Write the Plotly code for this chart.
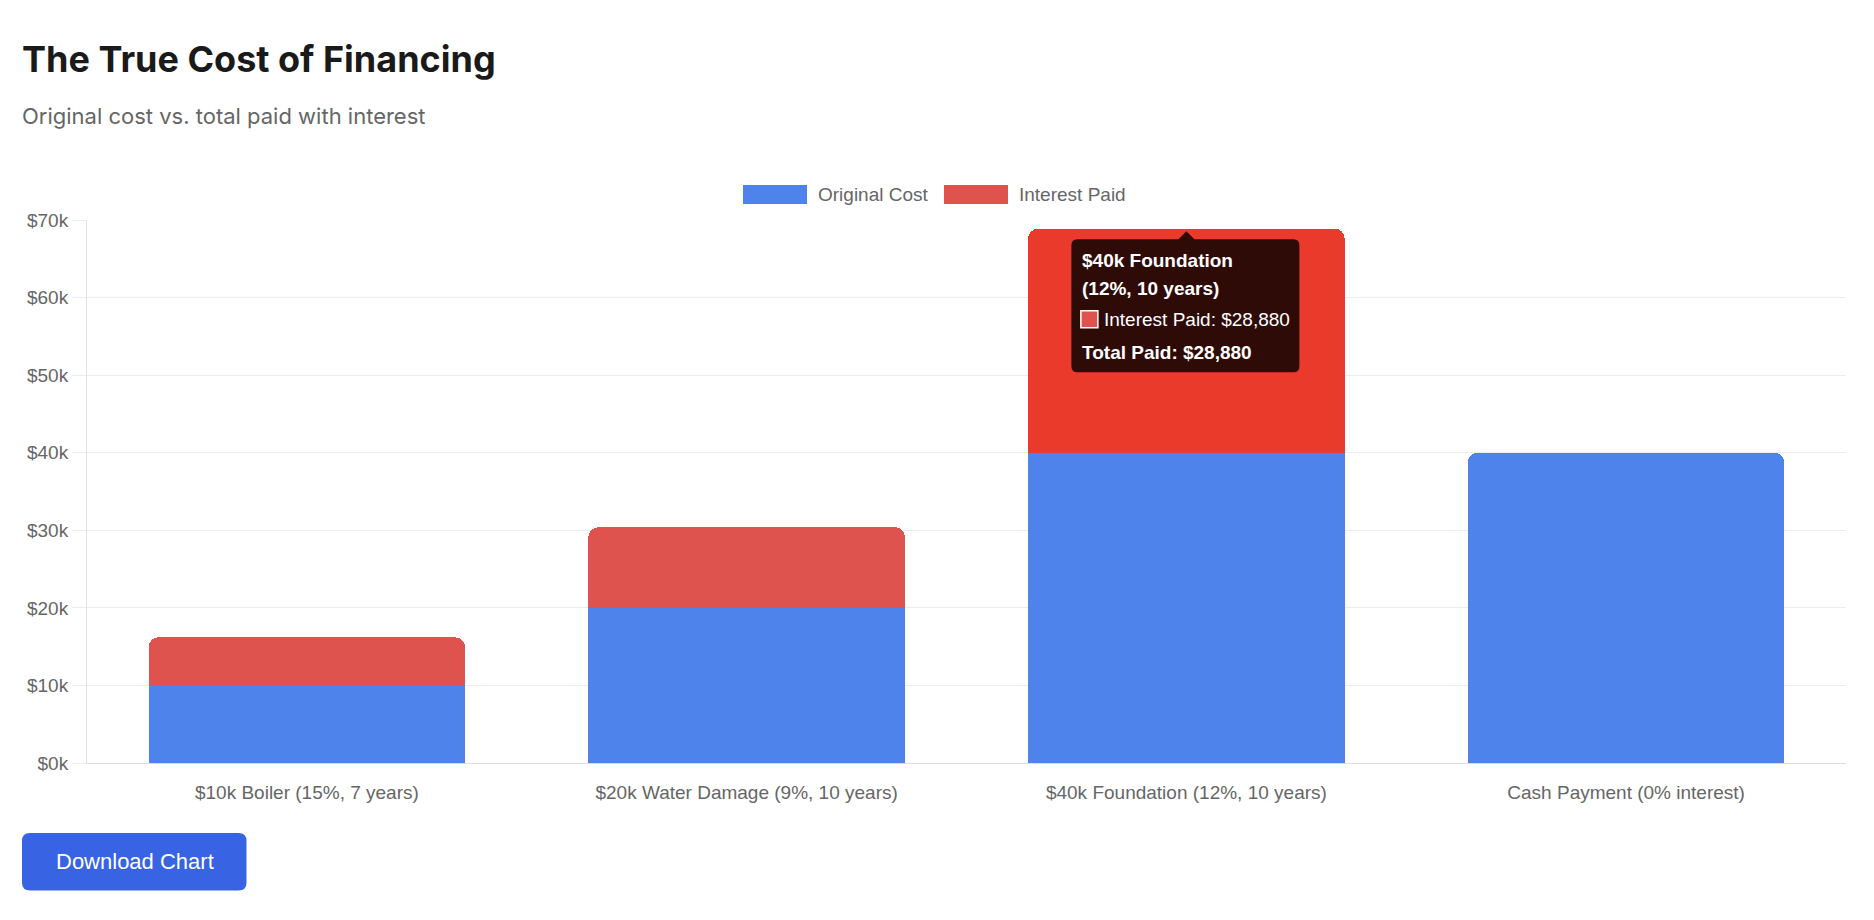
import plotly.graph_objects as go

# ---------------- data ----------------
categories = [
    "$10k Boiler (15%, 7 years)",
    "$20k Water Damage (9%, 10 years)",
    "$40k Foundation (12%, 10 years)",
    "Cash Payment (0% interest)",
]
original_cost = [10000, 20000, 40000, 40000]
interest_paid = [6209, 10402, 28880, 0]
series_names = ["Original Cost", "Interest Paid"]
y_tick_values = [0, 10000, 20000, 30000, 40000, 50000, 60000, 70000]
y_tick_labels = ["$0k", "$10k", "$20k", "$30k", "$40k", "$50k", "$60k", "$70k"]
title_text = "The True Cost of Financing"
subtitle_text = "Original cost vs. total paid with interest"
button_text = "Download Chart"
hovered_index = 2

# ---------------- style ----------------
BLUE = "#4E83EC"
RED = "#DE534D"
RED_HOVER = "#EA3A2C"
TEXT = "#666666"
GRID = "#ECECEC"
FONT = "Liberation Sans, Arial, Helvetica, sans-serif"

W, H = 1874, 920
L, R, T, B = 87, 28, 220, 157
PW, PH = W - L - R, H - T - B
AX0, AY0 = L, H - B  # pixel of paper (0,0)


def px_x(px):
    return (px - L) / PW


def px_y(py):
    return (H - B - py) / PH


def rounded_path(x0, y0, x1, y1, r, ox=0.0, oy=0.0, caret=None):
    """Path in pixel offsets (y up) of a rounded rect given page pixels (y down).
    ox, oy: page pixel of anchor."""
    def P(x, y):
        return f"{x - ox:.2f},{oy - y:.2f}"
    parts = [f"M{P(x0 + r, y0)}"]
    if caret is not None:
        cx, cy, hw = caret
        parts += [f"L{P(cx - hw, y0)}", f"L{P(cx, cy)}", f"L{P(cx + hw, y0)}"]
    parts += [
        f"L{P(x1 - r, y0)}", f"Q{P(x1, y0)} {P(x1, y0 + r)}",
        f"L{P(x1, y1 - r)}", f"Q{P(x1, y1)} {P(x1 - r, y1)}",
        f"L{P(x0 + r, y1)}", f"Q{P(x0, y1)} {P(x0, y1 - r)}",
        f"L{P(x0, y0 + r)}", f"Q{P(x0, y0)} {P(x0 + r, y0)}", "Z",
    ]
    return " ".join(parts)


fig = go.Figure()
interest_colors = [RED_HOVER if i == hovered_index else RED for i in range(len(categories))]
fig.add_trace(go.Bar(x=categories, y=original_cost, name=series_names[0],
                     marker=dict(color=BLUE, line=dict(width=0)), hoverinfo="skip"))
fig.add_trace(go.Bar(x=categories, y=[v if v else None for v in interest_paid], name=series_names[1],
                     marker=dict(color=interest_colors, line=dict(width=0)), hoverinfo="skip"))

shapes = []
annotations = []

# ---- title / subtitle ----
annotations.append(dict(xref="paper", yref="paper", x=px_x(20), y=px_y(59), xanchor="left", yanchor="middle",
                        text=f"<b>{title_text}</b>", showarrow=False,
                        font=dict(family="Inter, sans-serif", size=36, color="#1a1a1a")))
annotations.append(dict(xref="paper", yref="paper", x=px_x(20), y=px_y(116), xanchor="left", yanchor="middle",
                        text=subtitle_text, showarrow=False,
                        font=dict(family="Inter, sans-serif", size=22, color="#666666")))

# ---- legend (custom, chart.js style) ----
legend_items = [(series_names[0], BLUE, 743), (series_names[1], RED, 944)]
for name, col, x0 in legend_items:
    shapes.append(dict(type="path", xref="paper", yref="paper", xsizemode="pixel", ysizemode="pixel",
                       xanchor=0, yanchor=0,
                       path=rounded_path(x0, 185, x0 + 64, 204, 0, AX0, AY0),
                       fillcolor=col, line=dict(width=0), layer="above"))
    annotations.append(dict(xref="paper", yref="paper", x=px_x(x0 + 73), y=px_y(194.5), xanchor="left",
                            yanchor="middle", text=name, showarrow=False,
                            font=dict(family=FONT, size=19, color=TEXT)))

# ---- tooltip on hovered bar ----
cat = categories[hovered_index]
total = original_cost[hovered_index] + interest_paid[hovered_index]
bar_top_px = AY0 - total / y_tick_values[-1] * PH
cx = AX0 + PW * (hovered_index + 0.5) / len(categories)
tip_ox, tip_oy = cx, bar_top_px
shapes.append(dict(type="path", xref="x", yref="y", xsizemode="pixel", ysizemode="pixel",
                   xanchor=cat, yanchor=total,
                   path=rounded_path(cx - 115, bar_top_px + 10.5, cx + 113, bar_top_px + 143.5, 6,
                                     tip_ox, tip_oy, caret=(cx, bar_top_px + 2.5, 8)),
                   fillcolor="rgba(0,0,0,0.8)", line=dict(width=0), layer="above"))
shapes.append(dict(type="rect", xref="x", yref="y", xsizemode="pixel", ysizemode="pixel",
                   xanchor=cat, yanchor=total, x0=-105.5, x1=-88.5, y0=-82, y1=-99,
                   fillcolor=RED, line=dict(width=1.5, color="white"), layer="above"))
title_lines = [cat.split(" (")[0], "(" + cat.split(" (")[1]]
tip_lines = [
    (f"<b>{title_lines[0]}</b>", -106, 31.5),
    (f"<b>{title_lines[1]}</b>", -106, 59.5),
    (f"{series_names[1]}: ${interest_paid[hovered_index]:,}", -84, 91),
    (f"<b>Total Paid: ${interest_paid[hovered_index]:,}</b>", -106, 124),
]
for txt, dx, dy in tip_lines:
    annotations.append(dict(xref="x", yref="y", x=cat, y=total, xshift=dx, yshift=-dy,
                            xanchor="left", yanchor="middle", text=txt, showarrow=False,
                            font=dict(family=FONT, size=19, color="white")))

# ---- download button ----
shapes.append(dict(type="path", xref="paper", yref="paper", xsizemode="pixel", ysizemode="pixel",
                   xanchor=0, yanchor=0,
                   path=rounded_path(22, 833, 246.5, 890.5, 8, AX0, AY0),
                   fillcolor="#3863E2", line=dict(width=0), layer="above"))
annotations.append(dict(xref="paper", yref="paper", x=px_x(134.5), y=px_y(861.5), xanchor="center",
                        yanchor="middle", text=button_text, showarrow=False,
                        font=dict(family=FONT, size=22, color="white")))

fig.update_layout(
    width=W, height=H,
    margin=dict(l=L, r=R, t=T, b=B, autoexpand=False),
    paper_bgcolor="white", plot_bgcolor="white",
    barmode="stack", bargap=0.28, barcornerradius=10,
    showlegend=False,
    font=dict(family=FONT, color=TEXT, size=19),
    shapes=shapes, annotations=annotations,
    xaxis=dict(showgrid=False, showline=True, linecolor="#DCDCDC", linewidth=1,
               ticks="outside", ticklen=12, tickcolor="rgba(0,0,0,0)",
               tickfont=dict(family=FONT, size=19, color=TEXT), fixedrange=True),
    yaxis=dict(range=[0, y_tick_values[-1]], tickvals=y_tick_values, ticktext=y_tick_labels,
               showgrid=True, gridcolor=GRID, gridwidth=1, zeroline=False,
               showline=True, linecolor="#E2E2E2", linewidth=1,
               ticks="outside", ticklen=14, tickcolor=GRID,
               tickfont=dict(family=FONT, size=19, color=TEXT), fixedrange=True),
)

fig.write_html("out.html", config={"displayModeBar": False})
